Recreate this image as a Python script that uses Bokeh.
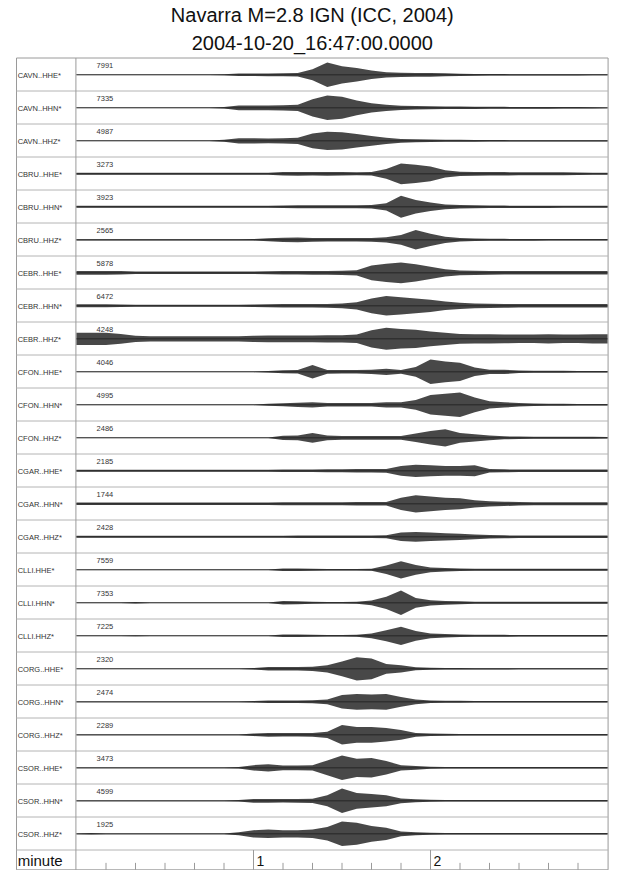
from bokeh.plotting import figure
from bokeh.models import Range1d, ColumnDataSource
from bokeh.embed import file_html
from bokeh.resources import INLINE
from bokeh.core.properties import value

# ---------------- data ----------------
title_1 = "Navarra M=2.8 IGN (ICC, 2004)"
title_2 = "2004-10-20_16:47:00.0000"

stations = ["CAVN..HHE*", "CAVN..HHN*", "CAVN..HHZ*",
            "CBRU..HHE*", "CBRU..HHN*", "CBRU..HHZ*",
            "CEBR..HHE*", "CEBR..HHN*", "CEBR..HHZ*",
            "CFON..HHE*", "CFON..HHN*", "CFON..HHZ*",
            "CGAR..HHE*", "CGAR..HHN*", "CGAR..HHZ*",
            "CLLI.HHE*", "CLLI.HHN*", "CLLI.HHZ*",
            "CORG..HHE*", "CORG..HHN*", "CORG..HHZ*",
            "CSOR..HHE*", "CSOR..HHN*", "CSOR..HHZ*"]

peak_counts = [7991, 7335, 4987, 3273, 3923, 2565, 5878, 6472, 4248,
               4046, 4995, 2486, 2185, 1744, 2428, 7559, 7353, 7225,
               2320, 2474, 2289, 3473, 4599, 1925]

# time knots (seconds after 16:47:00) at which the trace envelope was read
t_knots = [0, 5, 10, 15, 20, 25, 30, 35, 40, 45,
           50, 55, 60, 65, 70, 75, 80, 85, 90, 95,
           100, 105, 110, 115, 120, 125, 130, 135, 140, 145,
           150, 155, 160, 165, 170, 175, 180]

# envelope half-amplitude, percent of the trace's full scale
env_CAVN_HHE = [2, 2, 2, 2, 2, 2, 2, 2, 2, 2,
                4, 10, 10, 11, 12, 14, 45, 100, 70, 55,
                35, 22, 18, 16, 15, 12, 9, 7, 6, 6,
                5, 5, 5, 5, 5, 4, 4]
env_CAVN_HHN = [2, 2, 2, 2, 2, 2, 2, 2, 2, 2,
                6, 20, 20, 20, 22, 25, 70, 100, 90, 60,
                38, 25, 18, 14, 12, 10, 10, 9, 8, 8,
                7, 7, 7, 6, 6, 5, 3]
env_CAVN_HHZ = [2, 2, 2, 2, 2, 2, 2, 2, 2, 2,
                8, 22, 22, 20, 22, 25, 60, 75, 70, 55,
                40, 25, 16, 12, 10, 8, 8, 7, 6, 6,
                5, 5, 5, 5, 5, 5, 5]
env_CBRU_HHE = [8, 8, 8, 8, 8, 8, 8, 8, 8, 8,
                8, 8, 8, 8, 14, 16, 14, 16, 14, 12,
                14, 40, 85, 75, 60, 30, 18, 15, 14, 14,
                12, 12, 12, 12, 10, 8, 8]
env_CBRU_HHN = [8, 8, 8, 8, 8, 8, 8, 8, 8, 8,
                8, 8, 8, 8, 10, 12, 12, 12, 12, 12,
                14, 30, 90, 55, 35, 20, 14, 12, 10, 10,
                9, 9, 9, 8, 8, 8, 8]
env_CBRU_HHZ = [5, 5, 5, 5, 5, 5, 5, 5, 5, 5,
                5, 5, 6, 12, 18, 20, 16, 14, 14, 14,
                16, 22, 40, 80, 50, 25, 14, 10, 8, 8,
                7, 7, 6, 6, 6, 6, 6]
env_CEBR_HHE = [16, 16, 16, 14, 10, 10, 10, 10, 10, 10,
                10, 10, 10, 12, 14, 14, 16, 16, 18, 22,
                60, 75, 85, 70, 50, 30, 20, 18, 16, 14,
                14, 14, 14, 14, 14, 14, 14]
env_CEBR_HHN = [12, 12, 12, 10, 8, 8, 8, 8, 8, 8,
                8, 8, 10, 12, 14, 14, 14, 16, 20, 30,
                60, 80, 70, 60, 50, 35, 25, 20, 18, 16,
                14, 14, 14, 14, 14, 14, 14]
env_CEBR_HHZ = [50, 50, 50, 40, 25, 22, 22, 22, 22, 22,
                22, 22, 25, 28, 28, 28, 28, 30, 30, 35,
                70, 90, 80, 75, 60, 50, 40, 38, 38, 36,
                35, 35, 38, 35, 35, 38, 38]
env_CFON_HHE = [2, 2, 2, 2, 2, 2, 2, 2, 2, 2,
                2, 2, 2, 6, 12, 14, 55, 16, 14, 14,
                18, 25, 15, 40, 100, 85, 75, 35, 18, 18,
                10, 8, 8, 8, 6, 6, 6]
env_CFON_HHN = [2, 2, 2, 2, 2, 2, 2, 2, 2, 2,
                2, 2, 2, 8, 12, 18, 22, 14, 14, 14,
                14, 22, 22, 40, 80, 90, 100, 60, 30, 22,
                14, 10, 8, 8, 6, 6, 6]
env_CFON_HHZ = [2, 2, 2, 2, 2, 2, 2, 2, 2, 2,
                2, 2, 2, 2, 18, 20, 40, 20, 16, 16,
                16, 16, 16, 35, 55, 70, 40, 30, 20, 12,
                10, 8, 8, 8, 8, 8, 6]
env_CGAR_HHE = [8, 8, 8, 8, 8, 8, 8, 8, 8, 8,
                8, 8, 8, 8, 10, 10, 10, 12, 12, 14,
                14, 16, 40, 50, 45, 40, 40, 45, 14, 12,
                10, 10, 10, 10, 10, 10, 10]
env_CGAR_HHN = [10, 10, 10, 10, 10, 10, 10, 10, 10, 10,
                10, 10, 10, 10, 12, 12, 12, 12, 12, 14,
                14, 14, 50, 70, 60, 50, 45, 30, 22, 18,
                14, 12, 12, 12, 12, 12, 12]
env_CGAR_HHZ = [8, 8, 8, 8, 8, 8, 8, 8, 8, 8,
                8, 8, 8, 8, 8, 10, 10, 10, 10, 10,
                10, 12, 35, 40, 35, 30, 25, 20, 14, 12,
                10, 10, 10, 10, 10, 10, 10]
env_CLLI_HHE = [2, 2, 2, 2, 2, 2, 2, 2, 2, 2,
                2, 2, 2, 2, 10, 10, 8, 6, 6, 6,
                8, 35, 70, 40, 20, 14, 10, 8, 8, 8,
                8, 8, 8, 8, 8, 8, 8]
env_CLLI_HHN = [2, 2, 2, 2, 6, 2, 2, 2, 2, 2,
                2, 2, 2, 2, 14, 12, 8, 6, 6, 8,
                20, 50, 100, 40, 22, 16, 12, 8, 8, 8,
                8, 8, 8, 8, 8, 8, 8]
env_CLLI_HHZ = [2, 2, 2, 2, 4, 2, 2, 2, 2, 2,
                2, 2, 2, 2, 10, 10, 8, 6, 6, 8,
                20, 45, 75, 40, 20, 14, 10, 8, 8, 8,
                6, 6, 6, 6, 6, 6, 6]
env_CORG_HHE = [2, 2, 2, 2, 2, 2, 2, 2, 2, 2,
                2, 2, 6, 14, 14, 14, 18, 30, 60, 95,
                85, 40, 30, 12, 8, 6, 6, 5, 5, 5,
                4, 4, 4, 4, 4, 4, 4]
env_CORG_HHN = [3, 3, 3, 3, 3, 3, 3, 3, 3, 3,
                3, 3, 6, 10, 10, 10, 12, 20, 55, 65,
                60, 65, 40, 20, 10, 8, 8, 6, 6, 6,
                6, 6, 6, 6, 6, 6, 6]
env_CORG_HHZ = [3, 3, 3, 3, 3, 3, 3, 3, 3, 3,
                3, 3, 10, 16, 14, 14, 16, 25, 80, 65,
                65, 55, 40, 16, 10, 8, 6, 6, 6, 6,
                6, 6, 6, 6, 6, 6, 6]
env_CSOR_HHE = [3, 3, 3, 3, 3, 3, 3, 3, 3, 3,
                3, 6, 22, 30, 20, 20, 22, 60, 100, 75,
                80, 55, 22, 16, 8, 6, 6, 6, 6, 6,
                6, 6, 6, 6, 6, 6, 6]
env_CSOR_HHN = [3, 3, 3, 3, 3, 3, 3, 3, 3, 3,
                3, 6, 16, 16, 14, 16, 18, 45, 100, 65,
                55, 45, 20, 12, 8, 6, 6, 6, 6, 6,
                6, 6, 6, 6, 6, 6, 6]
env_CSOR_HHZ = [3, 6, 3, 3, 3, 3, 3, 3, 3, 3,
                3, 12, 30, 35, 30, 30, 35, 55, 100, 90,
                65, 50, 20, 12, 8, 6, 6, 6, 6, 6,
                6, 6, 6, 6, 6, 6, 6]

envelopes = [env_CAVN_HHE, env_CAVN_HHN, env_CAVN_HHZ,
             env_CBRU_HHE, env_CBRU_HHN, env_CBRU_HHZ,
             env_CEBR_HHE, env_CEBR_HHN, env_CEBR_HHZ,
             env_CFON_HHE, env_CFON_HHN, env_CFON_HHZ,
             env_CGAR_HHE, env_CGAR_HHN, env_CGAR_HHZ,
             env_CLLI_HHE, env_CLLI_HHN, env_CLLI_HHZ,
             env_CORG_HHE, env_CORG_HHN, env_CORG_HHZ,
             env_CSOR_HHE, env_CSOR_HHN, env_CSOR_HHZ]

axis_title = "minute"
major_ticks = [60, 120]           # seconds
major_labels = ["1", "2"]
minor_ticks = [10, 20, 30, 40, 50, 70, 80, 90, 100, 110,
               130, 140, 150, 160, 170]

# ---------------- layout / style ----------------
W, H = 632, 870
PX_PER_S = 2.95
T0_PX = 76.0          # canvas x of t = 0
ROW_PX = 33.0
TOP_PX = 57.5         # canvas y of the box top
AXIS_ROW = 0.6        # height of the time-axis row, in rows
n_rows = len(stations)
BOX_BOTTOM = n_rows + AXIS_ROW

X_LEFT = (16.0 - T0_PX) / PX_PER_S       # outer box left edge
X_RIGHT = 180.2                          # outer box right edge
X_DIV = -0.2                             # label column divider
AMP_SCALE = 0.37 / 100.0                 # rows per percent

FONT = value("Liberation Sans")

p = figure(width=W, height=H, output_backend="svg", toolbar_location=None,
           x_axis_type=None, y_axis_type=None, min_border=0,
           x_range=Range1d(-T0_PX / PX_PER_S, (W - T0_PX) / PX_PER_S),
           y_range=Range1d((H - TOP_PX) / ROW_PX, -TOP_PX / ROW_PX))
p.outline_line_color = None
p.background_fill_color = "white"
p.border_fill_color = "white"

# titles
title_x = (X_LEFT + X_RIGHT) / 2
p.text(x=[title_x, title_x],
       y=[(14.0 - TOP_PX) / ROW_PX, (42.5 - TOP_PX) / ROW_PX],
       text=[title_1, title_2], text_font=FONT, text_font_size="20px",
       text_align="center", text_baseline="middle", text_color="#111111")

# outer box, row separators, label divider
p.quad(left=[X_LEFT], right=[X_RIGHT], top=[0], bottom=[BOX_BOTTOM],
       fill_color=None, line_color="#9a9a9a", line_width=1)
sep_y = list(range(1, n_rows + 1))
p.segment(x0=[X_LEFT] * len(sep_y), x1=[X_RIGHT] * len(sep_y),
          y0=sep_y, y1=sep_y, line_color="#b4b4b4", line_width=1)
p.segment(x0=[X_DIV], x1=[X_DIV], y0=[0], y1=[BOX_BOTTOM],
          line_color="#9a9a9a", line_width=1)

# traces
base_y = [r + 0.51 for r in range(n_rows)]
for r, env in enumerate(envelopes):
    b = base_y[r]
    y1 = [b - a * AMP_SCALE for a in env]
    y2 = [b + a * AMP_SCALE for a in env]
    p.varea(x=t_knots, y1=y1, y2=y2, fill_color="#1a1a1a", fill_alpha=0.8)
p.multi_line(xs=[[t_knots[0], t_knots[-1]]] * n_rows,
             ys=[[b, b] for b in base_y],
             line_color="#222222", line_width=0.9)

# station labels and peak counts
lab_src = ColumnDataSource(dict(
    x=[X_LEFT + 0.4] * n_rows, y=[r + 0.54 for r in range(n_rows)],
    text=stations))
p.text(x="x", y="y", text="text", source=lab_src, text_font=FONT,
       text_font_size="7.5px", text_baseline="middle", text_align="left",
       text_color="#333333")
num_src = ColumnDataSource(dict(
    x=[6.8] * n_rows, y=[r + 0.22 for r in range(n_rows)],
    text=[str(c) for c in peak_counts]))
p.text(x="x", y="y", text="text", source=num_src, text_font=FONT,
       text_font_size="7.5px", text_baseline="middle", text_align="left",
       text_color="#333333")

# time axis row
p.segment(x0=minor_ticks, x1=minor_ticks,
          y0=[BOX_BOTTOM - 0.21] * len(minor_ticks),
          y1=[BOX_BOTTOM] * len(minor_ticks),
          line_color="#9a9a9a", line_width=1)
p.segment(x0=major_ticks, x1=major_ticks,
          y0=[n_rows] * len(major_ticks), y1=[BOX_BOTTOM] * len(major_ticks),
          line_color="#9a9a9a", line_width=1)
p.text(x=[t + 1.0 for t in major_ticks], y=[n_rows + 0.32] * len(major_ticks),
       text=major_labels, text_font=FONT, text_font_size="14px",
       text_align="left", text_baseline="middle", text_color="#111111")
p.text(x=[X_LEFT + 0.4], y=[n_rows + 0.32], text=[axis_title],
       text_font=FONT, text_font_size="15px", text_align="left",
       text_baseline="middle", text_color="#111111")

open("out.html", "w").write(file_html(p, INLINE))
